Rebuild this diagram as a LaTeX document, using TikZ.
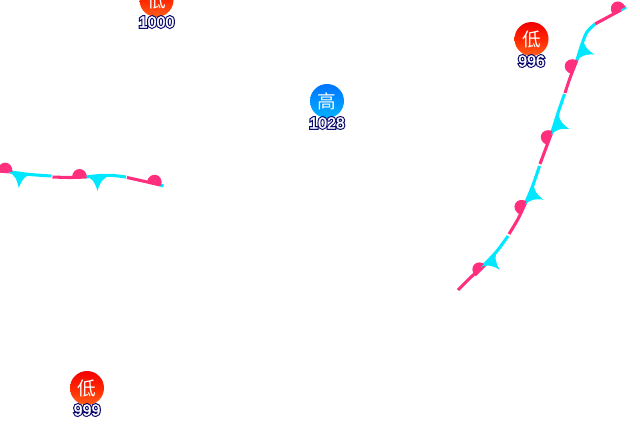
\documentclass[tikz,border=0pt]{standalone}
\usepackage{fontspec}
\setmainfont{Liberation Sans}
\newfontfamily\cjk{Noto Sans CJK SC}
\newfontfamily\halofont[FakeBold=16]{Liberation Sans}
\newfontfamily\numfont[FakeBold=1.5]{Liberation Sans}
\definecolor{frontpink}{HTML}{FF2F7E}
\definecolor{frontcyan}{HTML}{00E8FF}
\definecolor{halonavy}{HTML}{0B0B6E}
\newcommand{\halonum}[1]{\makebox[0pt][l]{\textcolor{halonavy}{\halofont #1}}{\numfont #1}}
\tikzset{
lowcenter/.style={circle, inner sep=0pt, minimum size=25.5pt, top color=red!95!black, bottom color=orange!60!red!90!white, middle color=red!70!orange, text=white, font=\cjk\fontsize{14}{15}\selectfont},
highcenter/.style={circle, inner sep=0pt, minimum size=25.5pt, top color=blue!55!cyan, bottom color=cyan!70!blue, text=white, font=\cjk\fontsize{14}{15}\selectfont},
pressure/.style={inner sep=0pt, text=white, font=\fontsize{12}{13}\selectfont},
warmseg/.style={draw=frontpink, line width=2.3pt, line cap=butt},
coldseg/.style={draw=frontcyan, line width=2.3pt, line cap=butt},
warmbump/.pic={\fill[frontpink] (-7.5,0) .. controls (-7.5,-12.5) and (7.5,-12.5) .. (7.5,0) -- cycle;},
coldbarb/.pic={\fill[frontcyan] (-12,0) .. controls (-6,1.5) and (-2.5,6) .. (0,15) .. controls (2.5,6) and (6,1.5) .. (12,0) -- cycle;}
}
\begin{document}
\begin{tikzpicture}[x=0.75pt, y=-0.75pt, node distance=16.5pt]
\clip (0,0) rectangle (640,440);

% pressure centres
\node (low1) [lowcenter] at (156.5,0) {低};
\node (low1p) [pressure, below of=low1] {\halonum{1000}};
\node (low2) [lowcenter] at (531.5,39) {低};
\node (low2p) [pressure, below of=low2] {\halonum{996}};
\node (high1) [highcenter] at (327,101) {高};
\node (high1p) [pressure, below of=high1] {\halonum{1028}};
\node (low3) [lowcenter] at (87,388) {低};
\node (low3p) [pressure, below of=low3] {\halonum{999}};

% left front
\draw[warmseg] plot[smooth] coordinates {(-2,171) (11,172)};
\draw[coldseg] plot[smooth] coordinates {(11,172) (30,174.5) (51.5,176)};
\draw[warmseg] plot[smooth] coordinates {(52.5,177) (70,177.5) (86,177)};
\draw[coldseg] plot[smooth] coordinates {(86,177) (100,175.5) (113,175.5) (126,177)};
\draw[warmseg] plot[smooth] coordinates {(127,177.5) (145,181.5) (160,185)};
\draw[coldseg] plot[smooth] coordinates {(160,185) (163.5,186)};
\foreach \px/\py/\ang in {5/172/-4, 79.5/178/0, 154/184/-13}
  \pic[rotate=\ang] at (\px,\py) {warmbump};
\foreach \px/\py/\ang in {20/173/-5, 97.5/176/0}
  \pic[rotate=\ang] at (\px,\py) {coldbarb};

% right front
\draw[coldseg] plot[smooth] coordinates {(626,7) (621,10)};
\draw[warmseg] plot[smooth] coordinates {(621,10) (608,17) (595,24)};
\draw[coldseg] plot[smooth] coordinates {(595,24) (587,32) (582,44) (577,60)};
\draw[warmseg] plot[smooth] coordinates {(577,60) (570,78) (565,93)};
\draw[coldseg] plot[smooth] coordinates {(564.5,94) (558,113) (552,132)};
\draw[warmseg] plot[smooth] coordinates {(552,132) (546,148) (540,164)};
\draw[coldseg] plot[smooth] coordinates {(539.5,166) (533,185) (526,202)};
\draw[warmseg] plot[smooth] coordinates {(526,202) (518,219) (509,234)};
\draw[coldseg] plot[smooth] coordinates {(508,236) (497,251) (483,266)};
\draw[warmseg] plot[smooth] coordinates {(483,266) (470,278) (458,290)};
\foreach \px/\py/\ang in {619/10.5/29, 574/67/72, 550/138/70, 523.5/208/62, 481/271/45}
  \pic[rotate=\ang] at (\px,\py) {warmbump};
\foreach \px/\py/\ang in {580/50/73, 555/124/71, 529.5/194/68, 489/259/45}
  \pic[rotate=\ang] at (\px,\py) {coldbarb};
\end{tikzpicture}
\end{document}
